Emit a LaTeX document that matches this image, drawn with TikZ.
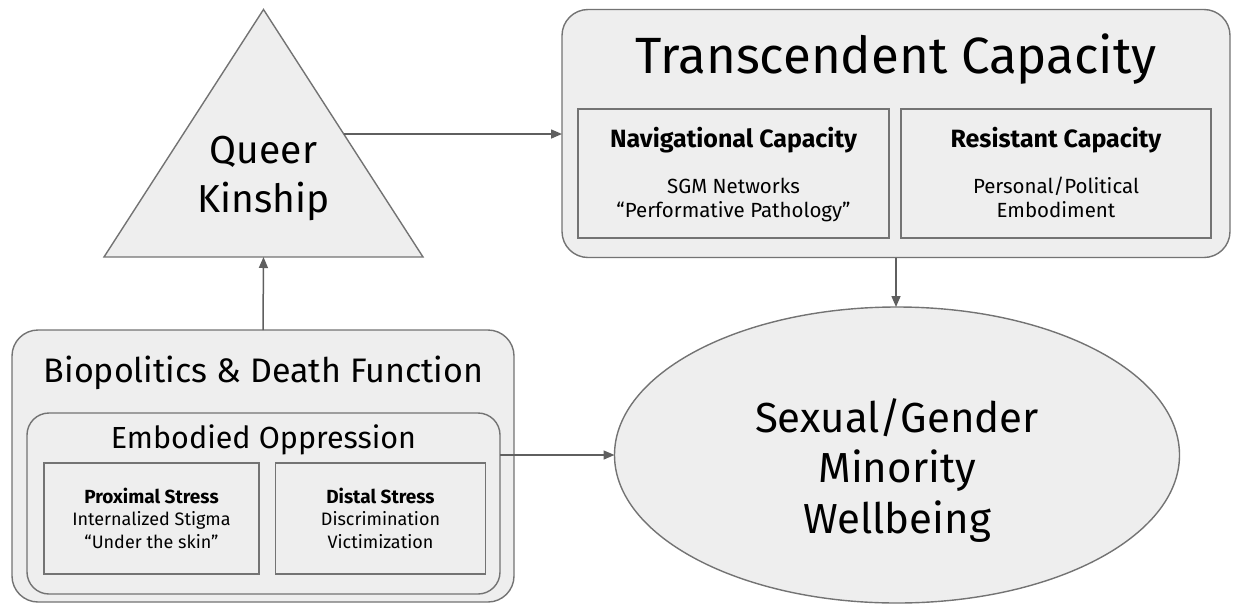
\documentclass[tikz,border=0pt]{standalone}
\usepackage{fontspec}
\setmainfont{Fira Sans}
\usetikzlibrary{shapes.geometric,arrows.meta}

\definecolor{boxfill}{HTML}{EEEEEE}
\definecolor{boxline}{HTML}{737373}
\definecolor{linkcol}{HTML}{5F5F5F}

\newcommand{\fsz}[2]{\fontsize{#1}{#2}\selectfont}

\tikzset{
  box/.style={draw=boxline, fill=boxfill, line width=1.4pt, inner sep=0pt, outer sep=0pt},
  roundbox/.style={box, rounded corners=26pt},
  link/.style={draw=linkcol, line width=1.5pt, -{Triangle[length=11pt,width=9pt]}},
  txt/.style={inner sep=0pt, align=center, anchor=base},
}

\begin{document}
\begin{tikzpicture}[x=1pt,y=-1pt]
   \useasboundingbox (0,0) rectangle (1233,603);

   % queer kinship
   \coordinate (apex) at (263.5,9.5);
   \coordinate (kinL) at (104,257);
   \coordinate (kinR) at (423,257);
   \draw[box, line join=miter] (apex) -- (kinR) -- (kinL) -- cycle;
   \coordinate (kinBase) at (263.5,257);
   \coordinate (kinSide) at (344,134);
   \node[txt, font=\fsz{39}{49}] (kinship) at (263.5,212) {Queer\\Kinship};

   % transcendent capacity
   \node[roundbox, minimum width=668pt, minimum height=248pt] (trans) at (896,133.5) {};
   \node[txt, font=\fsz{51}{58}] (transT) at (896,73) {Transcendent Capacity};
   \node[box, minimum width=311pt, minimum height=129pt] (nav) at (733.5,173.5) {};
   \node[box, minimum width=310pt, minimum height=129pt] (res) at (1056,173.5) {};
   \node[txt, font=\bfseries\fsz{25}{26}] (navT) at (733.5,147) {Navigational Capacity};
   \node[txt, font=\fsz{20.5}{24.5}] (navB) at (733.5,217.5) {SGM Networks\\“Performative Pathology”};
   \node[txt, font=\bfseries\fsz{25}{26}] (resT) at (1056,147) {Resistant Capacity};
   \node[txt, font=\fsz{20.5}{24.5}] (resB) at (1056,217.5) {Personal/Political\\Embodiment};

   % wellbeing
   \node[box, ellipse, minimum width=565pt, minimum height=296pt] (well) at (897,455) {};
   \node[txt, font=\fsz{42}{50.5}] (wellT) at (897,533) {Sexual/Gender\\Minority\\Wellbeing};

   % biopolitics
   \node[roundbox, minimum width=502pt, minimum height=272pt] (bio) at (263,466) {};
   \node[txt, font=\fsz{34}{38}] (bioT) at (263.5,382) {Biopolitics \& Death Function};
   \node[roundbox, rounded corners=22pt, minimum width=473pt, minimum height=181pt] (emb) at (263.5,503.5) {};
   \node[txt, font=\fsz{30.5}{36}] (embT) at (263.5,448) {Embodied Oppression};
   \node[box, minimum width=215pt, minimum height=111pt] (prox) at (151.5,518.5) {};
   \node[box, minimum width=210pt, minimum height=111pt] (dist) at (380.5,518.5) {};
   \node[txt, font=\fsz{18}{22.5}] (proxT) at (151.5,548) {{\fontsize{19}{22.5}\selectfont\bfseries Proximal Stress}\\Internalized Stigma\\“Under the skin”};
   \node[txt, font=\fsz{18}{22.5}] (distT) at (380.5,548) {{\fontsize{19}{22.5}\selectfont\bfseries Distal Stress}\\Discrimination\\Victimization};

   % links
   \draw[link] (bio.north) -- (kinBase);
   \draw[link] (kinSide) -- (trans.west |- kinSide);
   \draw[link] (trans.south) -- (trans.south |- well.north);
   \draw[link] (emb.east |- well.west) -- (well.west);

\end{tikzpicture}
\end{document}
